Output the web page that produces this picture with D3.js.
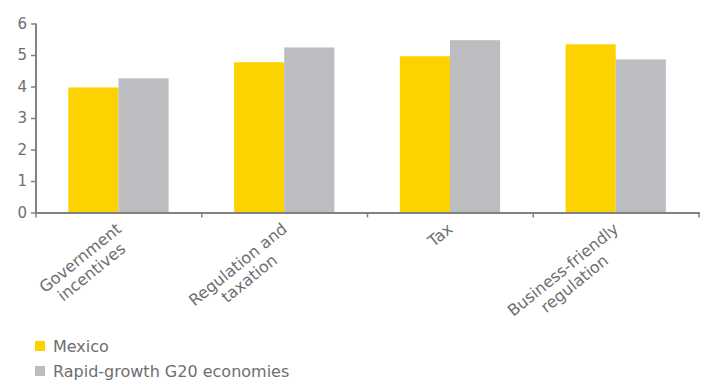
<!DOCTYPE html>
<html><head><meta charset="utf-8">
<script src="https://cdn.jsdelivr.net/npm/d3@7"></script>
<style>
html,body{margin:0;padding:0;background:#fff;}
svg{display:block;}
text{font-family:"DejaVu Sans",sans-serif;fill:#6d6e71;}
</style></head>
<body><svg id="c" width="708" height="382"></svg>
<script>
const categories = ["Government\nincentives", "Regulation and\ntaxation", "Tax", "Business-friendly\nregulation"];
const mexico = [3.97, 4.77, 4.96, 5.34];
const rapidG20 = [4.26, 5.24, 5.47, 4.86];
const seriesNames = ["Mexico", "Rapid-growth G20 economies"];
const yTicks = [0, 1, 2, 3, 4, 5, 6];

const colors = ["#FCD200", "#BCBDC1"];
const axisColor = "#808285";
const svg = d3.select("#c");

const x = d3.scaleBand().domain(categories).range([36, 699]).padding(0);
const y = d3.scaleLinear().domain([0, 6]).range([212.5, 23.5]);
const inner = d3.scaleBand().domain([0, 1]).range([x.step() * 0.195, x.step() * 0.8]).padding(0);

const series = [mexico, rapidG20];

// bars
series.forEach((vals, si) => {
  svg.append("g").selectAll("rect").data(vals).join("rect")
    .attr("x", (d, i) => x(categories[i]) + inner(si))
    .attr("width", inner.bandwidth())
    .attr("y", d => y(d))
    .attr("height", d => y(0) - y(d))
    .attr("fill", colors[si]);
});

// y axis
const yAxis = svg.append("g").attr("transform", "translate(36,0)")
  .call(d3.axisLeft(y).tickValues(yTicks).tickSize(5).tickPadding(4).tickFormat(d3.format("d")));
yAxis.select(".domain").attr("stroke", axisColor).attr("stroke-width", 2).attr("d", `M0,${y(6)}V${y(0)}`);
yAxis.selectAll(".tick line").attr("stroke", axisColor).attr("stroke-width", 1.5);
yAxis.selectAll(".tick text").attr("font-size", 15).attr("fill", "#6d6e71")
  .style("font-family", '"DejaVu Sans",sans-serif');

// x axis line and ticks at band boundaries
const bounds = categories.map(c => x(c)).concat([x.range()[1]]);
svg.append("line").attr("x1", 35).attr("x2", 700).attr("y1", y(0) + 0.5).attr("y2", y(0) + 0.5)
  .attr("stroke", axisColor).attr("stroke-width", 2);
svg.append("g").selectAll("line").data(bounds).join("line")
  .attr("x1", d => d).attr("x2", d => d).attr("y1", y(0)).attr("y2", y(0) + 5)
  .attr("stroke", axisColor).attr("stroke-width", 1.5);

// category labels rotated
const lineH = 18;
categories.forEach(c => {
  const lines = c.split("\n");
  const g = svg.append("g")
    .attr("transform", `translate(${x(c) + x.bandwidth() / 2 - 4},${y(0) + 9}) rotate(-39)`);
  const texts = lines.map((l, i) => g.append("text")
    .attr("font-size", 16).attr("y", i * lineH).attr("dy", "0.75em").text(l));
  const maxW = d3.max(texts, t => t.node().getComputedTextLength());
  texts.forEach(t => t.attr("text-anchor", "middle").attr("x", -maxW / 2));
});

// legend
const leg = svg.append("g").selectAll("g").data(seriesNames).join("g")
  .attr("transform", (d, i) => `translate(35,${341 + i * 25})`);
leg.append("rect").attr("width", 10).attr("height", 10).attr("fill", (d, i) => colors[i]);
leg.append("text").attr("x", 18).attr("y", 5).attr("dy", "0.36em").attr("font-size", 16).text(d => d);
</script></body></html>
